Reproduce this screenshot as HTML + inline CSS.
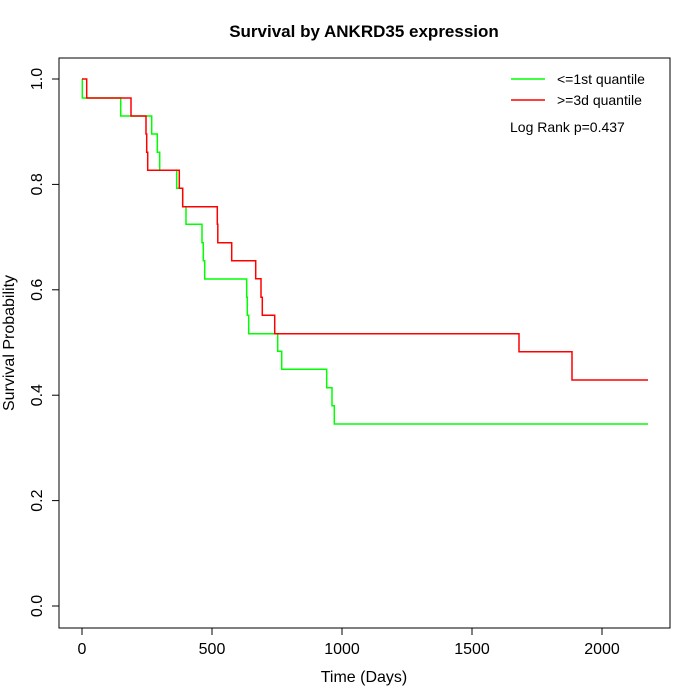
<!DOCTYPE html>
<html><head><style>body{margin:0;background:#fff}svg{display:block}text{font-family:"Liberation Sans",sans-serif}</style></head><body>
<svg width="700" height="700" xmlns="http://www.w3.org/2000/svg">
<rect width="700" height="700" fill="#fff"/>
<text x="364" y="37" text-anchor="middle" font-size="17" font-weight="bold">Survival by ANKRD35 expression</text>
<rect x="59" y="58" width="611" height="570" fill="none" stroke="#000" stroke-width="1"/>
<g stroke="#000" stroke-width="1">
<line x1="82" y1="628" x2="602" y2="628"/>
<line x1="82" y1="628" x2="82" y2="635"/><line x1="212" y1="628" x2="212" y2="635"/><line x1="342" y1="628" x2="342" y2="635"/><line x1="472" y1="628" x2="472" y2="635"/><line x1="602" y1="628" x2="602" y2="635"/>
<line x1="59" y1="79" x2="59" y2="606"/>
<line x1="52" y1="606" x2="59" y2="606"/><line x1="52" y1="500.6" x2="59" y2="500.6"/><line x1="52" y1="395.2" x2="59" y2="395.2"/><line x1="52" y1="289.8" x2="59" y2="289.8"/><line x1="52" y1="184.4" x2="59" y2="184.4"/><line x1="52" y1="79" x2="59" y2="79"/>
</g>
<g font-size="16" text-anchor="middle">
<text x="82" y="654">0</text><text x="212" y="654">500</text><text x="342" y="654">1000</text><text x="472" y="654">1500</text><text x="602" y="654">2000</text>
<text x="364" y="682">Time (Days)</text>
<text transform="translate(42,606) rotate(-90)">0.0</text>
<text transform="translate(42,500.6) rotate(-90)">0.2</text>
<text transform="translate(42,395.2) rotate(-90)">0.4</text>
<text transform="translate(42,289.8) rotate(-90)">0.6</text>
<text transform="translate(42,184.4) rotate(-90)">0.8</text>
<text transform="translate(42,79) rotate(-90)">1.0</text>
<text transform="translate(14,343) rotate(-90)">Survival Probability</text>
</g>
<polyline fill="none" stroke="#00ff00" stroke-width="1.5" points="82,79 82.3,79 82.3,98 120.7,98 120.7,116 151.7,116 151.7,134 157.3,134 157.3,152.3 159.7,152.3 159.7,170.3 176.7,170.3 176.7,188.3 182.7,188.3 182.7,206.7 186,206.7 186,224.3 202,224.3 202,242.7 203.3,242.7 203.3,260.7 204.7,260.7 204.7,279 246.7,279 246.7,297.3 247.3,297.3 247.3,315.3 248.7,315.3 248.7,333.7 277.7,333.7 277.7,351.3 281.7,351.3 281.7,369.3 326.7,369.3 326.7,387.7 332,387.7 332,405.7 334.3,405.7 334.3,424 648,424"/>
<polyline fill="none" stroke="#ff0000" stroke-width="1.5" points="82,79 86.7,79 86.7,98 131,98 131,116 146,116 146,134 146.7,134 146.7,152.3 147.7,152.3 147.7,170.3 179.3,170.3 179.3,188.3 182.7,188.3 182.7,206.7 217.3,206.7 217.3,224.3 217.8,224.3 217.8,242.7 231.7,242.7 231.7,260.7 255.7,260.7 255.7,278.7 261,278.7 261,297.3 262.3,297.3 262.3,315.3 274.7,315.3 274.7,333.7 519,333.7 519,351.7 572,351.7 572,380 648,380"/>
<line x1="511" y1="79" x2="545" y2="79" stroke="#00ff00" stroke-width="1.5"/>
<line x1="511" y1="100" x2="545" y2="100" stroke="#ff0000" stroke-width="1.5"/>
<g font-size="14"><text x="557" y="84">&lt;=1st quantile</text><text x="557" y="105">&gt;=3d quantile</text><text x="510" y="132">Log Rank p=0.437</text></g>
</svg>
</body></html>
